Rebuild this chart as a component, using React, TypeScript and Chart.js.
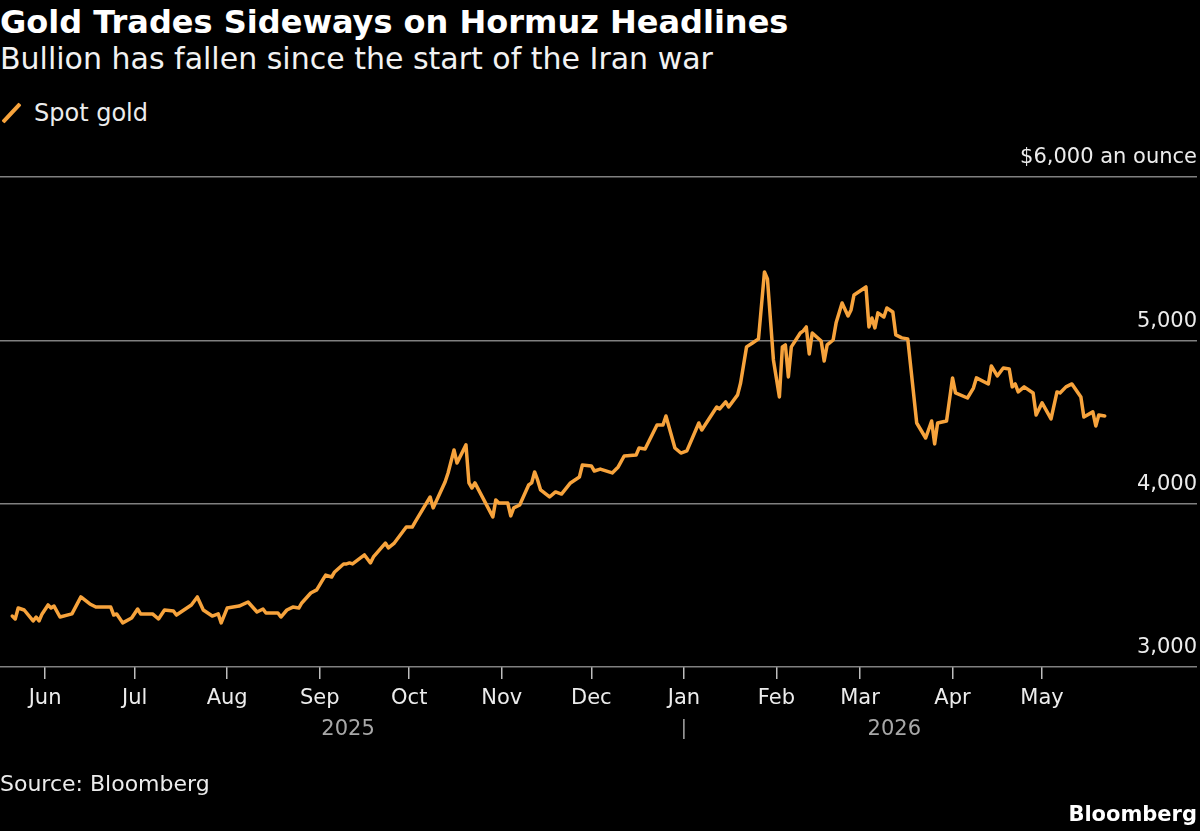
import React, { useEffect, useRef } from 'react';
import { Chart, registerables } from 'chart.js';

Chart.register(...registerables);

const TITLE = 'Gold Trades Sideways on Hormuz Headlines';
const SUBTITLE = 'Bullion has fallen since the start of the Iran war';
const SERIES_LABEL = 'Spot gold';
const SOURCE = 'Source: Bloomberg';
const BRAND = 'Bloomberg';
const UNIT_LABEL = '$6,000 an ounce';

const Y_TICKS = [3000, 4000, 5000, 6000];
const MONTH_STARTS = [
  '2025-06-01', '2025-07-01', '2025-08-01', '2025-09-01', '2025-10-01', '2025-11-01',
  '2025-12-01', '2026-01-01', '2026-02-01', '2026-03-01', '2026-04-01', '2026-05-01',
];
const MONTH_LABELS = ['Jun', 'Jul', 'Aug', 'Sep', 'Oct', 'Nov', 'Dec', 'Jan', 'Feb', 'Mar', 'Apr', 'May'];
const YEAR_LABELS = ['2025', '2026'];
const YEAR_BREAK = '2026-01-01';

const DATES = [
  '2025-05-21', '2025-05-22', '2025-05-23', '2025-05-25', '2025-05-28', '2025-05-29', '2025-05-30', '2025-05-31',
  '2025-06-02', '2025-06-03', '2025-06-04', '2025-06-06', '2025-06-10', '2025-06-13', '2025-06-16', '2025-06-18',
  '2025-06-23', '2025-06-24', '2025-06-25', '2025-06-27', '2025-06-30',
  '2025-07-02', '2025-07-03', '2025-07-07', '2025-07-09', '2025-07-11', '2025-07-14', '2025-07-15', '2025-07-17',
  '2025-07-20', '2025-07-22', '2025-07-24', '2025-07-27', '2025-07-29', '2025-07-30',
  '2025-08-01', '2025-08-05', '2025-08-08', '2025-08-11', '2025-08-13', '2025-08-14', '2025-08-18', '2025-08-19',
  '2025-08-21', '2025-08-23', '2025-08-25', '2025-08-26', '2025-08-29', '2025-08-31',
  '2025-09-02', '2025-09-03', '2025-09-05', '2025-09-06', '2025-09-09', '2025-09-10', '2025-09-11', '2025-09-12',
  '2025-09-16', '2025-09-18', '2025-09-19', '2025-09-23', '2025-09-24', '2025-09-26', '2025-09-30',
  '2025-10-02', '2025-10-03', '2025-10-08', '2025-10-09', '2025-10-13', '2025-10-14', '2025-10-16', '2025-10-17',
  '2025-10-20', '2025-10-21', '2025-10-22', '2025-10-23', '2025-10-29', '2025-10-30', '2025-10-31',
  '2025-11-03', '2025-11-04', '2025-11-05', '2025-11-07', '2025-11-10', '2025-11-11', '2025-11-12', '2025-11-13',
  '2025-11-14', '2025-11-17', '2025-11-19', '2025-11-21', '2025-11-24', '2025-11-25', '2025-11-27', '2025-11-28',
  '2025-12-01', '2025-12-02', '2025-12-04', '2025-12-08', '2025-12-10', '2025-12-12', '2025-12-16', '2025-12-17',
  '2025-12-19', '2025-12-23', '2025-12-25', '2025-12-26', '2025-12-29', '2025-12-31',
  '2026-01-02', '2026-01-06', '2026-01-07', '2026-01-12', '2026-01-13', '2026-01-15', '2026-01-16', '2026-01-19',
  '2026-01-20', '2026-01-22', '2026-01-24', '2026-01-26', '2026-01-28', '2026-01-29', '2026-01-31',
  '2026-02-02', '2026-02-03', '2026-02-04', '2026-02-05', '2026-02-06', '2026-02-09', '2026-02-10', '2026-02-11',
  '2026-02-12', '2026-02-13', '2026-02-16', '2026-02-17', '2026-02-18', '2026-02-20', '2026-02-21', '2026-02-23',
  '2026-02-25', '2026-02-26', '2026-02-27',
  '2026-03-03', '2026-03-04', '2026-03-05', '2026-03-06', '2026-03-07', '2026-03-09', '2026-03-10', '2026-03-12',
  '2026-03-13', '2026-03-15', '2026-03-17', '2026-03-20', '2026-03-23', '2026-03-25', '2026-03-26', '2026-03-27',
  '2026-03-30',
  '2026-04-01', '2026-04-02', '2026-04-06', '2026-04-08', '2026-04-09', '2026-04-13', '2026-04-14', '2026-04-16',
  '2026-04-18', '2026-04-20', '2026-04-21', '2026-04-22', '2026-04-23', '2026-04-25', '2026-04-28', '2026-04-29',
  '2026-05-01', '2026-05-04', '2026-05-06', '2026-05-07', '2026-05-09', '2026-05-11', '2026-05-14', '2026-05-15',
  '2026-05-18', '2026-05-19', '2026-05-20', '2026-05-22',
];

const PRICES = [
  3312, 3294, 3361, 3349, 3282, 3306, 3282, 3325,
  3380, 3361, 3373, 3306, 3325, 3429, 3386, 3367,
  3367, 3318, 3325, 3270, 3300,
  3355, 3325, 3325, 3294, 3349, 3343, 3318, 3343,
  3380, 3429, 3349, 3312, 3325, 3270,
  3361, 3373, 3398, 3337, 3355, 3331, 3331, 3306,
  3349, 3367, 3361, 3392, 3453, 3472,
  3533, 3563, 3551, 3582, 3631, 3631, 3637, 3631,
  3686, 3637, 3674, 3759, 3729, 3759, 3857,
  3857, 3888, 4041, 3974, 4133, 4188, 4329, 4249,
  4360, 4127, 4096, 4127, 3919, 4023, 4004,
  4004, 3925, 3974, 3992, 4114, 4127, 4194, 4145,
  4084, 4041, 4072, 4059, 4127, 4139, 4163, 4237,
  4231, 4200, 4212, 4188, 4225, 4292, 4298, 4341,
  4335, 4482, 4482, 4537, 4341, 4310,
  4323, 4494, 4451, 4592, 4580, 4623, 4592, 4666,
  4739, 4960, 4984, 5009, 5419, 5376, 4880,
  4653, 4960, 4972, 4776, 4960, 5045, 5058, 5082,
  4917, 5045, 4996, 4874, 4972, 5002, 5107, 5229,
  5149, 5186, 5278,
  5327, 5082, 5137, 5076, 5168, 5143, 5198, 5174,
  5033, 5015, 5009, 4494, 4402, 4506, 4366, 4494,
  4506,
  4770, 4678, 4647, 4708, 4770, 4733, 4843, 4782,
  4831, 4825, 4715, 4733, 4684, 4715, 4678, 4543,
  4617, 4519, 4684, 4678, 4715, 4733, 4653, 4531,
  4562, 4476, 4543, 4537,
];

const ORIGIN = Date.UTC(2025, 5, 1);
function toDay(s: string): number {
  const [y, m, d] = s.split('-').map(Number);
  return (Date.UTC(y, m - 1, d) - ORIGIN) / 86400000;
}

const FONT = '"DejaVu Sans", "Liberation Sans", sans-serif';
const LINE_COLOR = '#f7a33c';

const yearPlugin = {
  id: 'yearLabels',
  afterDraw(chart: any) {
    const xs = chart.scales.x;
    const ctx = chart.ctx;
    const first = xs.getPixelForValue(toDay(DATES[0]));
    const brk = xs.getPixelForValue(toDay(YEAR_BREAK));
    const last = xs.getPixelForValue(toDay(DATES[DATES.length - 1]));
    ctx.save();
    ctx.font = `21px ${FONT}`;
    ctx.fillStyle = '#a8a8a8';
    ctx.textAlign = 'center';
    ctx.textBaseline = 'alphabetic';
    ctx.fillText(YEAR_LABELS[0], (first + brk) / 2, xs.top + 68);
    ctx.fillText(YEAR_LABELS[1], (brk + last) / 2, xs.top + 68);
    ctx.strokeStyle = '#a8a8a8';
    ctx.lineWidth = 1.5;
    ctx.beginPath();
    ctx.moveTo(brk, xs.top + 52);
    ctx.lineTo(brk, xs.top + 72);
    ctx.stroke();
    ctx.restore();
  },
};

export default function App() {
  const ref = useRef<HTMLCanvasElement>(null);

  useEffect(() => {
    document.body.style.margin = '0';
    document.body.style.background = '#000';
    const points = DATES.map((d, i) => ({ x: toDay(d), y: PRICES[i] }));
    const monthTicks = MONTH_STARTS.map(toDay);
    const chart = new Chart(ref.current as HTMLCanvasElement, {
      type: 'line',
      data: {
        datasets: [
          {
            label: SERIES_LABEL,
            data: points,
            borderColor: LINE_COLOR,
            backgroundColor: LINE_COLOR,
            borderWidth: 3.5,
            pointRadius: 0,
            tension: 0,
            borderJoinStyle: 'round',
            borderCapStyle: 'round',
          },
        ],
      },
      options: {
        animation: false,
        responsive: false,
        maintainAspectRatio: false,
        layout: { padding: { top: 47, left: 0, right: 0, bottom: 0 } },
        plugins: {
          legend: { display: false },
          tooltip: { enabled: false },
          title: { display: false },
        },
        scales: {
          x: {
            type: 'linear',
            min: -15.1,
            max: 385.9,
            afterBuildTicks: (s: any) => {
              s.ticks = monthTicks.map((v) => ({ value: v }));
            },
            afterFit: (s: any) => {
              s.height = 163;
            },
            ticks: {
              autoSkip: false,
              maxRotation: 0,
              padding: 7,
              color: '#ececec',
              font: { family: FONT, size: 21 },
              callback: (_v: any, i: number) => MONTH_LABELS[i],
            },
            grid: {
              drawOnChartArea: false,
              drawTicks: true,
              tickLength: 12,
              color: '#bdbdbd',
              lineWidth: 1.5,
            },
            border: { display: false },
          },
          y: {
            position: 'right',
            min: 3000,
            max: 6000,
            afterBuildTicks: (s: any) => {
              s.ticks = Y_TICKS.map((v) => ({ value: v }));
            },
            afterFit: (s: any) => {
              s.width = 3;
            },
            ticks: {
              mirror: true,
              padding: 0,
              labelOffset: -19,
              color: '#ececec',
              font: { family: FONT, size: 21 },
              callback: (v: any) => (v === 6000 ? UNIT_LABEL : Number(v).toLocaleString('en-US')),
            },
            grid: {
              drawTicks: false,
              color: '#808080',
              lineWidth: 1.6,
            },
            border: { display: false },
          },
        },
      },
      plugins: [yearPlugin],
    });
    return () => chart.destroy();
  }, []);

  return (
    <div
      style={{
        position: 'relative',
        width: 1200,
        height: 831,
        background: '#000',
        overflow: 'hidden',
        fontFamily: FONT,
        color: '#fff',
      }}
    >
      <div style={{ position: 'absolute', left: 0, top: 6, fontSize: 32, fontWeight: 700, lineHeight: '32px', whiteSpace: 'nowrap' }}>
        {TITLE}
      </div>
      <div style={{ position: 'absolute', left: 0, top: 44, fontSize: 30, lineHeight: '30px', whiteSpace: 'nowrap', color: '#f2f2f2' }}>
        {SUBTITLE}
      </div>
      <div style={{ position: 'absolute', left: 0, top: 101, height: 24, width: 300 }}>
        <div
          style={{
            position: 'absolute',
            left: -1,
            top: 10,
            width: 25,
            height: 4,
            background: LINE_COLOR,
            transform: 'rotate(-47deg)',
            borderRadius: 1,
          }}
        />
        <div style={{ position: 'absolute', left: 34, top: 0, fontSize: 24, lineHeight: '24px', whiteSpace: 'nowrap', color: '#ececec' }}>
          {SERIES_LABEL}
        </div>
      </div>
      <canvas
        ref={ref}
        width={1200}
        height={700}
        style={{ position: 'absolute', left: 0, top: 130, width: 1200, height: 700, display: 'block' }}
      />
      <div style={{ position: 'absolute', left: 0, top: 773, fontSize: 22, lineHeight: '22px', whiteSpace: 'nowrap', color: '#ececec' }}>
        {SOURCE}
      </div>
      <div style={{ position: 'absolute', right: 3, top: 804, fontSize: 21, fontWeight: 700, lineHeight: '21px', whiteSpace: 'nowrap', color: '#fff' }}>
        {BRAND}
      </div>
    </div>
  );
}
